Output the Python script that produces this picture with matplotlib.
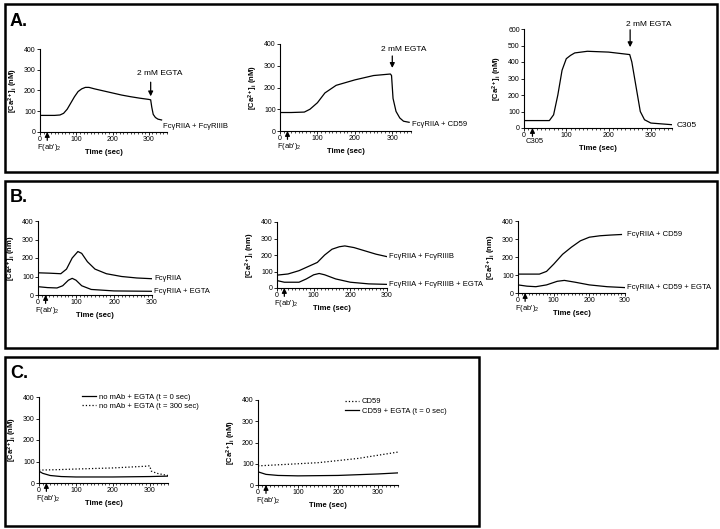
import matplotlib.pyplot as plt
import numpy as np
from matplotlib.ticker import MultipleLocator
from matplotlib.patches import Rectangle

plt.rcParams["font.family"] = ["Liberation Sans", "DejaVu Sans"]
plt.rcParams["mathtext.fontset"] = "custom"
plt.rcParams["mathtext.bf"] = "Liberation Sans:bold"
plt.rcParams["mathtext.rm"] = "Liberation Sans"

# ---- panel A data (time in sec, [Ca2+]i in nM) ----
a1_t = [0, 20, 40, 55, 65, 75, 85, 95, 105, 115, 125, 135, 150, 175, 200, 225, 250, 275, 300, 305, 308, 312, 318, 325, 335]
a1_y = [80, 80, 80, 82, 90, 110, 140, 170, 195, 208, 215, 215, 208, 198, 188, 178, 170, 163, 157, 155, 120, 85, 70, 62, 58]

a2_t = [0, 30, 65, 80, 100, 120, 150, 200, 250, 295, 298, 302, 310, 320, 330, 345]
a2_y = [85, 85, 87, 100, 130, 175, 210, 235, 255, 262, 255, 150, 90, 60, 45, 40]

a3_t = [0, 30, 60, 70, 80, 90, 100, 110, 120, 150, 200, 250, 255, 265, 275, 285, 300, 350]
a3_y = [45, 45, 45, 80, 200, 350, 420, 440, 455, 465, 460, 445, 400, 250, 100, 50, 30, 20]

# ---- panel B data ----
b1_t = [0, 30, 60, 75, 90, 105, 115, 130, 150, 180, 220, 260, 300]
b1_y = [120, 118, 115, 140, 200, 235, 225, 180, 140, 115, 100, 92, 88]
b1e_t = [0, 25, 50, 65, 80, 90, 100, 115, 140, 200, 300]
b1e_y = [45, 40, 38, 50, 80, 90, 80, 50, 30, 22, 20]

b2_t = [0, 30, 60, 90, 110, 130, 150, 170, 185, 210, 240, 270, 300]
b2_y = [78, 85, 105, 135, 155, 200, 235, 250, 255, 245, 225, 205, 190]
b2e_t = [0, 20, 60, 80, 100, 115, 130, 160, 200, 250, 300]
b2e_y = [45, 35, 35, 55, 80, 88, 80, 55, 35, 25, 22]

b3_t = [0, 30, 60, 80, 100, 125, 150, 175, 200, 230, 260, 290]
b3_y = [105, 105, 105, 120, 160, 215, 255, 290, 310, 318, 322, 325]
b3e_t = [0, 25, 50, 80, 110, 130, 160, 200, 250, 300]
b3e_y = [45, 38, 35, 45, 65, 70, 60, 45, 35, 30]

# ---- panel C data ----
c1s_t = [0, 10, 30, 60, 100, 200, 300, 350]
c1s_y = [55, 45, 35, 30, 28, 28, 30, 32]
c1d_t = [0, 50, 100, 200, 290, 300, 305, 320, 340, 350]
c1d_y = [60, 62, 65, 70, 78, 80, 55, 45, 38, 35]

c2d_t = [0, 50, 100, 150, 200, 250, 300, 350]
c2d_y = [90, 95, 100, 105, 115, 125, 140, 155]
c2s_t = [0, 20, 50, 100, 200, 300, 350]
c2s_y = [62, 50, 45, 43, 45, 52, 57]

W, H = 720, 529
fig = plt.figure(figsize=(W / 100, H / 100), dpi=100)


def add_box(x0, y0, x1, y1):
    fig.patches.append(Rectangle((x0 / W, 1 - y1 / H), (x1 - x0) / W, (y1 - y0) / H,
                                 transform=fig.transFigure, fill=False, lw=1.8, ec="black"))


def make_ax(left, top, right, bottom, xmax, ymax, ylabel):
    ax = fig.add_axes([left / W, 1 - bottom / H, (right - left) / W, (bottom - top) / H])
    ax.set_xlim(0, xmax)
    ax.set_ylim(0, ymax)
    for s in ("top", "right"):
        ax.spines[s].set_visible(False)
    for s in ("left", "bottom"):
        ax.spines[s].set_linewidth(0.8)
    ax.xaxis.set_major_locator(MultipleLocator(100))
    ax.xaxis.set_minor_locator(MultipleLocator(10))
    ax.yaxis.set_major_locator(MultipleLocator(100))
    ax.tick_params(labelsize=5, length=2, width=0.6, pad=1)
    ax.tick_params(which="minor", length=1.2, width=0.5)
    ax.set_ylabel(ylabel, fontsize=5.5, fontweight="bold", labelpad=3)
    ax.set_xlabel("Time (sec)", fontsize=5.5, fontweight="bold", labelpad=4)
    # stimulus arrow at t = 20 sec
    ax.annotate("", xy=(20, 0), xycoords=("data", "axes fraction"),
                xytext=(0, -6), textcoords="offset points",
                arrowprops=dict(arrowstyle="-|>", lw=0.9, color="black", mutation_scale=7,
                                shrinkA=0, shrinkB=0),
                annotation_clip=False)
    return ax


def fab_label(ax, x=25, text="F(ab')$_2$"):
    ax.annotate(text, xy=(x, 0), xycoords=("data", "axes fraction"),
                xytext=(0, -7), textcoords="offset points",
                fontsize=5.5, ha="center", va="top", annotation_clip=False)


def egta_arrow(ax, x, y_from, y_to, text_x, text_y):
    ax.annotate("", xy=(x, y_to), xytext=(x, y_from),
                arrowprops=dict(arrowstyle="-|>", lw=0.9, color="black", mutation_scale=7,
                                shrinkA=0, shrinkB=0),
                annotation_clip=False)
    ax.text(text_x, text_y, "2 mM EGTA", fontsize=6, ha="center", va="center", clip_on=False)


lw = 0.9
nm = r"$\mathbf{[Ca^{2+}]_i}$ (nM)"
nm_b = r"$\mathbf{[Ca^{2+}]_i}$ (nm)"

# ---- panel A ----
add_box(5, 4, 717, 172)
fig.text(10 / W, 1 - 22 / H, "A.", fontsize=13, fontweight="bold", va="center")

ax = make_ax(40, 49, 167, 132, 350, 400, nm)
ax.plot(a1_t, a1_y, color="black", lw=lw)
fab_label(ax)
egta_arrow(ax, 305, 240, 172, 330, 282)
ax.text(340, 28, "FcγRIIA + FcγRIIIB", fontsize=5.5, va="center", clip_on=False)

ax = make_ax(280, 44, 411, 131, 350, 400, nm)
ax.plot(a2_t, a2_y, color="black", lw=lw)
fab_label(ax)
egta_arrow(ax, 300, 345, 290, 330, 375)
ax.text(352, 32, "FcγRIIA + CD59", fontsize=5.5, va="center", clip_on=False)

ax = make_ax(524, 29, 672, 128, 350, 600, nm)
ax.plot(a3_t, a3_y, color="black", lw=lw)
fab_label(ax, text="C305")
egta_arrow(ax, 251, 595, 490, 295, 630)
ax.text(360, 18, "C305", fontsize=6, va="center", clip_on=False)

# ---- panel B ----
add_box(5, 181, 717, 348)
fig.text(10 / W, 1 - 198 / H, "B.", fontsize=13, fontweight="bold", va="center")

ax = make_ax(38, 221, 152, 295, 300, 400, nm_b)
ax.plot(b1_t, b1_y, color="black", lw=lw)
ax.plot(b1e_t, b1e_y, color="black", lw=lw)
fab_label(ax)
ax.text(305, 88, "FcγRIIA", fontsize=5.5, va="center", clip_on=False)
ax.text(305, 20, "FcγRIIA + EGTA", fontsize=5.5, va="center", clip_on=False)

ax = make_ax(277, 222, 387, 288, 300, 400, nm_b)
ax.plot(b2_t, b2_y, color="black", lw=lw)
ax.plot(b2e_t, b2e_y, color="black", lw=lw)
fab_label(ax)
ax.text(305, 190, "FcγRIIA + FcγRIIIB", fontsize=5.5, va="center", clip_on=False)
ax.text(305, 22, "FcγRIIA + FcγRIIIB + EGTA", fontsize=5.5, va="center", clip_on=False)

ax = make_ax(518, 221, 625, 293, 300, 400, nm_b)
ax.plot(b3_t, b3_y, color="black", lw=lw)
ax.plot(b3e_t, b3e_y, color="black", lw=lw)
fab_label(ax)
ax.text(305, 325, "FcγRIIA + CD59", fontsize=5.5, va="center", clip_on=False)
ax.text(305, 30, "FcγRIIA + CD59 + EGTA", fontsize=5.5, va="center", clip_on=False)

# ---- panel C ----
add_box(5, 357, 479, 526)
fig.text(10 / W, 1 - 374 / H, "C.", fontsize=13, fontweight="bold", va="center")

ax = make_ax(39, 397, 168, 483, 350, 400, nm)
ax.plot(c1s_t, c1s_y, color="black", lw=lw, label="no mAb + EGTA (t = 0 sec)")
ax.plot(c1d_t, c1d_y, color="black", lw=lw, ls=":", label="no mAb + EGTA (t = 300 sec)")
fab_label(ax)
ax.legend(loc="upper left", bbox_to_anchor=(0.31, 1.08), frameon=False, fontsize=5.5,
          handlelength=1.8, handletextpad=0.4, labelspacing=0.3, borderaxespad=0)

ax = make_ax(258, 400, 398, 485, 350, 400, nm)
ax.plot(c2d_t, c2d_y, color="black", lw=lw, ls=":", label="CD59")
ax.plot(c2s_t, c2s_y, color="black", lw=lw, label="CD59 + EGTA (t = 0 sec)")
fab_label(ax)
ax.legend(loc="upper left", bbox_to_anchor=(0.6, 1.06), frameon=False, fontsize=5.5,
          handlelength=1.8, handletextpad=0.4, labelspacing=0.3, borderaxespad=0)

fig.savefig("out.png", dpi=100)
